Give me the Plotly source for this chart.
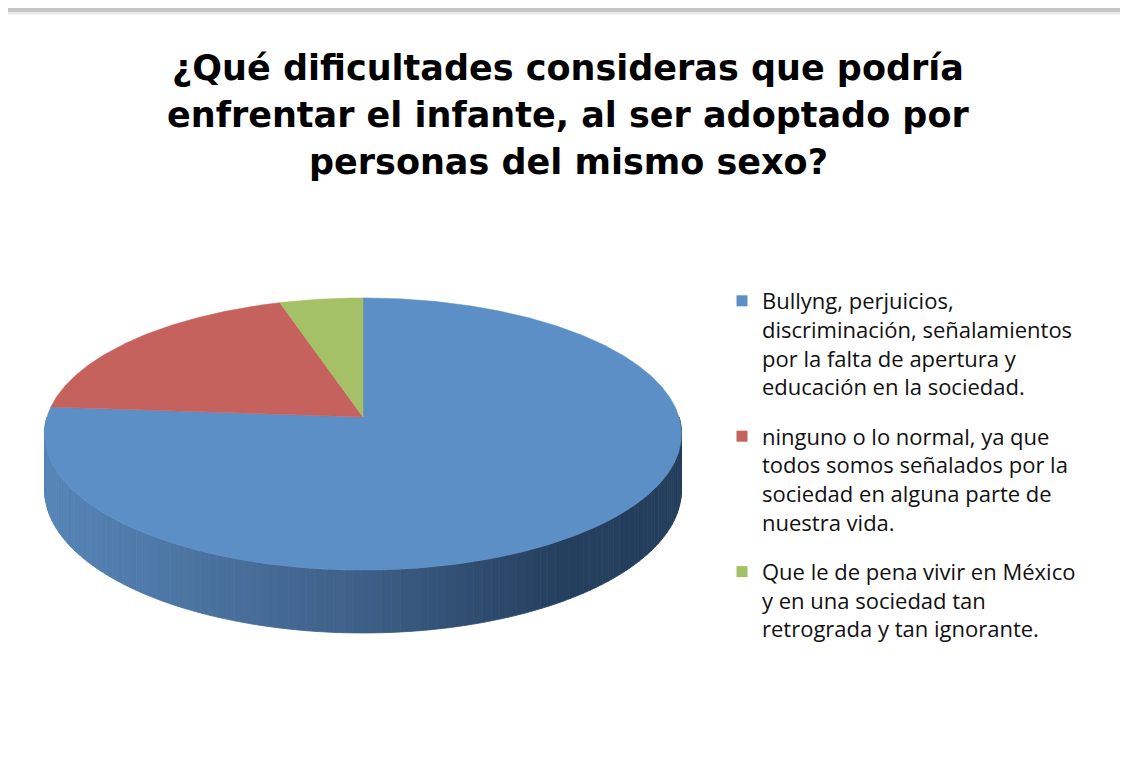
import numpy as np
import plotly.graph_objects as go

# ==========================================
# DATA
# ==========================================
TITLE_LINES = [
    "¿Qué dificultades consideras que podría",
    "enfrentar el infante, al ser adoptado por",
    "personas del mismo sexo?",
]
CATEGORIES = [
    "Bullyng, perjuicios,<br>discriminación, señalamientos<br>por la falta de apertura y<br>educación en la sociedad.",
    "ninguno o lo normal, ya que<br>todos somos señalados por la<br>sociedad en alguna parte de<br>nuestra vida.",
    "Que le de pena vivir en México<br>y en una sociedad tan<br>retrograda y tan ignorante.",
]
VALUES = [16, 4, 1]
COLORS = ["#5C8FC6", "#C6625D", "#A5C167"]

# ==========================================
# 3D PIE GEOMETRY (perspective disc, radius = 1)
# ==========================================
PERSP = 0.125     # far side shrink
TILT = 0.424      # vertical squash of the disc
DEPTH = 0.174     # thickness of the disc
PX = 316.0        # pixels per unit
OFF = 8           # page body margin
W, H = 1128 - 2 * OFF, 757 - 2 * OFF
CX, CY = 363.0 - OFF, 417.0 - OFF  # pie centre inside the figure
FONT = "'Open Sans', 'Noto Sans', sans-serif"
TITLE_FONT = "'DejaVu Sans', 'Open Sans', sans-serif"


def project(theta_deg, drop=0.0):
    t = np.radians(theta_deg)
    u, v = np.sin(t), np.cos(t)
    d = 1 + PERSP * v
    return u / d, (TILT * v - drop) / d


def side_color(x):
    xs = [-1.0, 0.0, 0.62, 1.0]
    r = np.interp(x, xs, [86, 62, 37, 36])
    g = np.interp(x, xs, [133, 95, 64, 63])
    b = np.interp(x, xs, [183, 135, 95, 92])
    return f"rgb({r:.0f},{g:.0f},{b:.0f})"


def px_x(x):
    return (x - OFF) / W


def px_y(y):
    return 1 - (y - OFF) / H


fig = go.Figure()

# side wall (front half only, the top face covers the rest)
edges = np.linspace(90, 270, 121)
for a0, a1 in zip(edges[:-1], edges[1:]):
    arc = np.linspace(a0, a1, 4)
    tx, ty = project(arc)
    bx, by = project(arc[::-1], DEPTH)
    xs = np.concatenate([tx, bx, tx[:1]])
    ys = np.concatenate([ty, by, ty[:1]])
    col = side_color(float(np.mean(xs)))
    fig.add_trace(go.Scatter(
        x=xs, y=ys, mode="lines", fill="toself", fillcolor=col,
        line=dict(color=col, width=0.8), hoverinfo="skip", showlegend=False
    ))

# top face slices, clockwise from 12 o'clock
total = float(sum(VALUES))
start = 0.0
for label, val, col in zip(CATEGORIES, VALUES, COLORS):
    span = 360.0 * val / total
    arc = np.linspace(start, start + span, max(int(span * 2), 4))
    ax, ay = project(arc)
    xs = np.concatenate([[0.0], ax, [0.0]])
    ys = np.concatenate([[0.0], ay, [0.0]])
    fig.add_trace(go.Scatter(
        x=xs, y=ys, mode="lines", fill="toself", fillcolor=col,
        line=dict(color=col, width=0.5), hoverinfo="text",
        text=f"{val} ({val / total:.0%})", showlegend=False
    ))
    start += span

# legend entries
for i, (label, col) in enumerate(zip(CATEGORIES, COLORS)):
    fig.add_trace(go.Scatter(
        x=[None], y=[None], mode="markers", name=label, legendgroup=f"g{i}",
        marker=dict(symbol="square", size=11, color=col)
    ))

# title lines placed one by one for tight line spacing
title_ann = []
for i, line in enumerate(TITLE_LINES):
    title_ann.append(dict(
        text=line, xref="paper", yref="paper", x=px_x(568), y=px_y(68 + 47 * i),
        xanchor="center", yanchor="middle", showarrow=False,
        font=dict(size=35, family=TITLE_FONT, color="#000000", weight="bold")
    ))

fig.update_layout(
    width=W, height=H,
    margin=dict(l=0, r=0, t=0, b=0),
    paper_bgcolor="white", plot_bgcolor="white",
    font=dict(family=FONT, color="#111111"),
    annotations=title_ann,
    xaxis=dict(range=[-CX / PX, (W - CX) / PX], visible=False, fixedrange=True),
    yaxis=dict(range=[(CY - H) / PX, CY / PX], visible=False, fixedrange=True),
    showlegend=True,
    legend=dict(
        x=px_x(722), y=px_y(280), xanchor="left", yanchor="top", valign="top",
        font=dict(size=22, color="#111111"), tracegroupgap=18,
        bgcolor="rgba(0,0,0,0)", itemclick=False, itemdoubleclick=False
    ),
    shapes=[
        dict(type="line", xref="paper", yref="paper", x0=0, x1=1,
             y0=px_y(13), y1=px_y(13), line=dict(color="#ebebeb", width=3)),
        dict(type="line", xref="paper", yref="paper", x0=0, x1=1,
             y0=px_y(10), y1=px_y(10), line=dict(color="#c6c6c6", width=4)),
    ],
)

fig.write_html("out.html")
